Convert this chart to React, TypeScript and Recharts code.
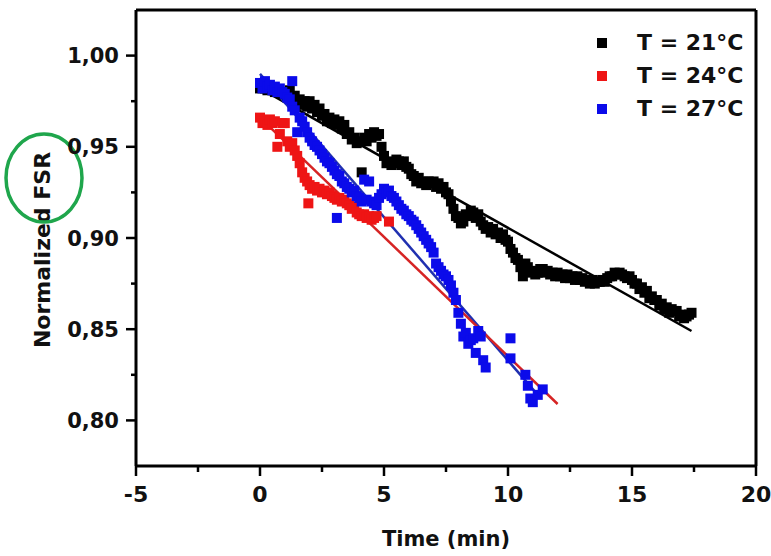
import React from "react";
import { ComposedChart, Scatter, Line, XAxis, YAxis, ReferenceLine, Legend } from "recharts";

const FONT = "'DejaVu Sans', sans-serif";

const seriesNames = ["T = 21°C", "T = 24°C", "T = 27°C"];
const markerColors = ["#000000", "#ee1515", "#0b0bea"];
const fitColors = ["#000000", "#d62424", "#2030b0"];

const xTicks = [-5, -2.5, 0, 2.5, 5, 7.5, 10, 12.5, 15, 17.5, 20];
const yTicks = [0.8, 0.825, 0.85, 0.875, 0.9, 0.925, 0.95, 0.975, 1.0];

// T = 21°C
const time21 = [
  0, 0.1, 0.2, 0.3, 0.4, 0.5, 0.6, 0.7, 0.8, 0.9,
  1, 1.1, 1.2, 1.3, 1.4, 1.5, 1.6, 1.7, 1.8, 1.9,
  2, 2.1, 2.2, 2.3, 2.4, 2.5, 2.6, 2.7, 2.8, 2.9,
  3, 3.1, 3.2, 3.3, 3.4, 3.5, 3.6, 3.7, 3.8, 3.9,
  4, 4.1, 4.2, 4.3, 4.4, 4.5, 4.6, 4.7, 4.8, 4.9,
  5, 5.1, 5.2, 5.3, 5.4, 5.5, 5.6, 5.7, 5.8, 5.9,
  6, 6.1, 6.2, 6.3, 6.4, 6.5, 6.6, 6.7, 6.8, 6.9,
  7, 7.1, 7.2, 7.3, 7.4, 7.5, 7.6, 7.7, 7.8, 7.9,
  8, 8.1, 8.2, 8.3, 8.4, 8.5, 8.6, 8.7, 8.8, 8.9,
  9, 9.1, 9.2, 9.3, 9.4, 9.5, 9.6, 9.7, 9.8, 9.9,
  10, 10.1, 10.2, 10.3, 10.4, 10.5, 10.6, 10.7, 10.8, 10.9,
  11, 11.1, 11.2, 11.3, 11.4, 11.5, 11.6, 11.7, 11.8, 11.9,
  12, 12.1, 12.2, 12.3, 12.4, 12.5, 12.6, 12.7, 12.8, 12.9,
  13, 13.1, 13.2, 13.3, 13.4, 13.5, 13.6, 13.7, 13.8, 13.9,
  14, 14.1, 14.2, 14.3, 14.4, 14.5, 14.6, 14.7, 14.8, 14.9,
  15, 15.1, 15.2, 15.3, 15.4, 15.5, 15.6, 15.7, 15.8, 15.9,
  16, 16.1, 16.2, 16.3, 16.4, 16.5, 16.6, 16.7, 16.8, 16.9,
  17, 17.1, 17.2, 17.3, 17.4,
];
const fsr21 = [
  0.982, 0.983, 0.982, 0.981, 0.982, 0.981, 0.980, 0.981, 0.980, 0.979,
  0.980, 0.978, 0.981, 0.976, 0.978, 0.975, 0.976, 0.973, 0.975, 0.972,
  0.975, 0.971, 0.973, 0.969, 0.971, 0.967, 0.968, 0.964, 0.966, 0.963,
  0.965, 0.962, 0.964, 0.960, 0.962, 0.957, 0.958, 0.954, 0.955, 0.952,
  0.953, 0.936, 0.955, 0.953, 0.957, 0.955, 0.958, 0.956, 0.957, 0.950,
  0.945, 0.941, 0.942, 0.940, 0.941, 0.943, 0.942, 0.940, 0.942, 0.939,
  0.938, 0.935, 0.934, 0.931, 0.933, 0.930, 0.931, 0.929, 0.931, 0.930,
  0.931, 0.928, 0.930, 0.927, 0.928, 0.925, 0.924, 0.920, 0.916, 0.912,
  0.911, 0.908, 0.909, 0.913, 0.912, 0.915, 0.914, 0.911, 0.913, 0.909,
  0.907, 0.905, 0.906, 0.903, 0.905, 0.902, 0.903, 0.900, 0.902, 0.899,
  0.898, 0.894, 0.892, 0.889, 0.888, 0.884, 0.879, 0.886, 0.884, 0.881,
  0.882, 0.880, 0.881, 0.883, 0.883, 0.881, 0.882, 0.880, 0.881, 0.879,
  0.881, 0.879, 0.880, 0.878, 0.880, 0.878, 0.879, 0.877, 0.879, 0.877,
  0.878, 0.876, 0.877, 0.875, 0.877, 0.875, 0.876, 0.876, 0.877, 0.876,
  0.878, 0.879, 0.879, 0.881, 0.880, 0.881, 0.880, 0.879, 0.878, 0.879,
  0.877, 0.875, 0.875, 0.872, 0.873, 0.870, 0.871, 0.867, 0.868, 0.866,
  0.866, 0.863, 0.864, 0.861, 0.862, 0.859, 0.861, 0.860, 0.860, 0.857,
  0.858, 0.856, 0.857, 0.858, 0.859,
];

// T = 24°C
const time24 = [
  0, 0.1, 0.2, 0.3, 0.4, 0.5, 0.6, 0.7, 0.8, 0.9,
  1, 1.1, 1.2, 1.3, 1.4, 1.5, 1.6, 1.7, 1.8, 1.9, 1.95,
  2, 2.1, 2.2, 2.3, 2.4, 2.5, 2.6, 2.7, 2.8, 2.9,
  3, 3.1, 3.2, 3.3, 3.4, 3.5, 3.6, 3.7, 3.8, 3.9,
  4, 4.1, 4.2, 4.3, 4.4, 4.5, 4.6, 4.7, 5.2,
];
const fsr24 = [
  0.966, 0.963, 0.964, 0.962, 0.965, 0.963, 0.964, 0.950, 0.957, 0.963,
  0.963, 0.953, 0.950, 0.952, 0.948, 0.945, 0.941, 0.936, 0.933, 0.931, 0.919,
  0.929, 0.927, 0.928, 0.926, 0.927, 0.925, 0.926, 0.924, 0.925, 0.923,
  0.922, 0.921, 0.922, 0.920, 0.921, 0.919, 0.918, 0.916, 0.917, 0.914,
  0.913, 0.912, 0.913, 0.911, 0.912, 0.910, 0.911, 0.912, 0.909,
];

// T = 27°C
const time27 = [
  0, 0.1, 0.2, 0.3, 0.4, 0.5, 0.6, 0.7, 0.8, 0.9,
  1, 1.1, 1.2, 1.3, 1.3, 1.4, 1.5, 1.6, 1.7, 1.8, 1.9,
  2, 2.1, 2.2, 2.3, 2.4, 2.5, 2.6, 2.7, 2.8, 2.9,
  3, 3.1, 3.1, 3.2, 3.3, 3.4, 3.5, 3.6, 3.7, 3.8, 3.9,
  4, 4.1, 4.2, 4.3, 4.4, 4.5, 4.6, 4.7, 4.8, 4.9,
  5, 5.1, 5.2, 5.3, 5.4, 5.5, 5.6, 5.7, 5.8, 5.9,
  6, 6.1, 6.2, 6.3, 6.4, 6.5, 6.6, 6.7, 6.8, 6.9,
  7, 7.1, 7.2, 7.3, 7.4, 7.5, 7.6, 7.7, 7.8, 7.9,
  8, 8.1, 8.2, 8.3, 8.4, 8.5, 8.6, 8.7, 8.8, 8.9,
  9, 9.1, 10.1, 10.1, 10.7, 10.8, 10.9, 11.0, 11.2, 11.4,
];
const fsr27 = [
  0.985, 0.982, 0.986, 0.983, 0.984, 0.981, 0.983, 0.980, 0.982, 0.980,
  0.979, 0.977, 0.976, 0.986, 0.972, 0.970, 0.958, 0.966, 0.964, 0.961, 0.958,
  0.955, 0.953, 0.951, 0.950, 0.948, 0.946, 0.944, 0.942, 0.941, 0.939,
  0.937, 0.935, 0.911, 0.934, 0.931, 0.930, 0.928, 0.927, 0.925, 0.926, 0.923,
  0.922, 0.920, 0.932, 0.921, 0.931, 0.920, 0.919, 0.918, 0.922, 0.924,
  0.927, 0.925, 0.926, 0.923, 0.922, 0.920, 0.918, 0.916, 0.915, 0.913,
  0.912, 0.910, 0.909, 0.907, 0.905, 0.903, 0.901, 0.899, 0.897, 0.895,
  0.892, 0.886, 0.884, 0.882, 0.880, 0.879, 0.877, 0.874, 0.870, 0.866,
  0.859, 0.853, 0.846, 0.848, 0.842, 0.844, 0.845, 0.837, 0.849, 0.846,
  0.833, 0.829, 0.845, 0.834, 0.825, 0.819, 0.812, 0.810, 0.814, 0.817,
];

// linear fits (end points)
const fitTime21 = [0, 17.4];
const fitFsr21 = [0.982, 0.849];
const fitTime24 = [0, 12.0];
const fitFsr24 = [0.966, 0.809];
const fitTime27 = [0, 11.2];
const fitFsr27 = [0.990, 0.814];

const toPoints = (ts: number[], vs: number[]) => ts.map((t, i) => ({ t, v: vs[i] }));

const pts21 = toPoints(time21, fsr21);
const pts24 = toPoints(time24, fsr24);
const pts27 = toPoints(time27, fsr27);
const fit21 = toPoints(fitTime21, fitFsr21);
const fit24 = toPoints(fitTime24, fitFsr24);
const fit27 = toPoints(fitTime27, fitFsr27);

const square = (color: string) => (p: any) =>
  <rect x={p.cx - 5} y={p.cy - 5} width={10} height={10} fill={color} />;

const isMajorY = (v: number) => Math.abs(v * 20 - Math.round(v * 20)) < 1e-6;

const YTick = (p: any) => {
  const v = p.payload.value;
  const major = isMajorY(v);
  return (
    <g>
      <line x1={p.x - (major ? 10 : 5)} x2={p.x} y1={p.y} y2={p.y} stroke="#000" strokeWidth={2.5} />
      {major && (
        <text x={p.x - 17} y={p.y} dy="0.36em" textAnchor="end" fontFamily={FONT} fontWeight="bold" fontSize={21} fill="#111">
          {v.toFixed(2).replace(".", ",")}
        </text>
      )}
    </g>
  );
};

const XTick = (p: any) => {
  const v = p.payload.value;
  const major = Number.isInteger(v);
  return (
    <g>
      <line x1={p.x} x2={p.x} y1={p.y} y2={p.y + (major ? 10 : 6)} stroke="#000" strokeWidth={2.5} />
      {major && (
        <text x={p.x} y={p.y + 36} textAnchor="middle" fontFamily={FONT} fontWeight="bold" fontSize={22} fill="#111">
          {v}
        </text>
      )}
    </g>
  );
};

const XTitle = () => (
  <text x={446} y={546} textAnchor="middle" fontFamily={FONT} fontWeight="bold" fontSize={21} fill="#111">
    Time (min)
  </text>
);

const YTitle = () => (
  <g>
    <text x={50} y={250} transform="rotate(-90 50 250)" textAnchor="middle" fontFamily={FONT} fontWeight="bold" fontSize={22} fill="#111">
      Normalized FSR
    </text>
    <ellipse cx={44} cy={178} rx={38} ry={44} fill="none" stroke="#1fa64c" strokeWidth={3.5} />
  </g>
);

const LegendBox = () => (
  <div style={{ fontFamily: FONT, fontWeight: "bold", fontSize: 22, color: "#111" }}>
    {seriesNames.map((name, i) => (
      <div key={name} style={{ display: "flex", alignItems: "center", height: 33 }}>
        <span style={{ display: "inline-block", width: 10, height: 10, background: markerColors[i], marginRight: 30 }} />
        <span>{name}</span>
      </div>
    ))}
  </div>
);

export default function App() {
  return (
    <div style={{ position: "absolute", left: 0, top: 0, width: 771, height: 556, background: "#fff" }}>
      <ComposedChart width={771} height={556} margin={{ top: 10, right: 15, bottom: 0, left: 0 }}>
        <XAxis
          type="number"
          dataKey="t"
          domain={[-5, 20]}
          ticks={xTicks}
          interval={0}
          allowDataOverflow
          height={90}
          tickSize={0}
          tickMargin={0}
          tickLine={false}
          tick={XTick}
          axisLine={{ stroke: "#000", strokeWidth: 3 }}
          label={XTitle}
        />
        <YAxis
          type="number"
          dataKey="v"
          domain={[0.775, 1.025]}
          ticks={yTicks}
          interval={0}
          allowDataOverflow
          width={136}
          tickSize={0}
          tickMargin={0}
          tickLine={false}
          tick={YTick}
          axisLine={{ stroke: "#000", strokeWidth: 3 }}
          label={YTitle}
        />
        <ReferenceLine y={1.025} stroke="#000" strokeWidth={3} />
        <ReferenceLine x={20} stroke="#000" strokeWidth={3} />
        <Legend
          layout="vertical"
          align="center"
          verticalAlign="middle"
          content={LegendBox}
          wrapperStyle={{ position: "absolute", top: 26, left: 597, width: 170, bottom: "auto", right: "auto" }}
        />
        <Scatter name={seriesNames[0]} data={pts21} dataKey="v" shape={square(markerColors[0])} fill={markerColors[0]} isAnimationActive={false} />
        <Scatter name={seriesNames[1]} data={pts24} dataKey="v" shape={square(markerColors[1])} fill={markerColors[1]} isAnimationActive={false} />
        <Scatter name={seriesNames[2]} data={pts27} dataKey="v" shape={square(markerColors[2])} fill={markerColors[2]} isAnimationActive={false} />
        <Line data={fit21} dataKey="v" type="linear" stroke={fitColors[0]} strokeWidth={2.5} dot={false} activeDot={false} legendType="none" isAnimationActive={false} />
        <Line data={fit27} dataKey="v" type="linear" stroke={fitColors[2]} strokeWidth={2.5} dot={false} activeDot={false} legendType="none" isAnimationActive={false} />
        <Line data={fit24} dataKey="v" type="linear" stroke={fitColors[1]} strokeWidth={2.5} dot={false} activeDot={false} legendType="none" isAnimationActive={false} />
      </ComposedChart>
    </div>
  );
}
